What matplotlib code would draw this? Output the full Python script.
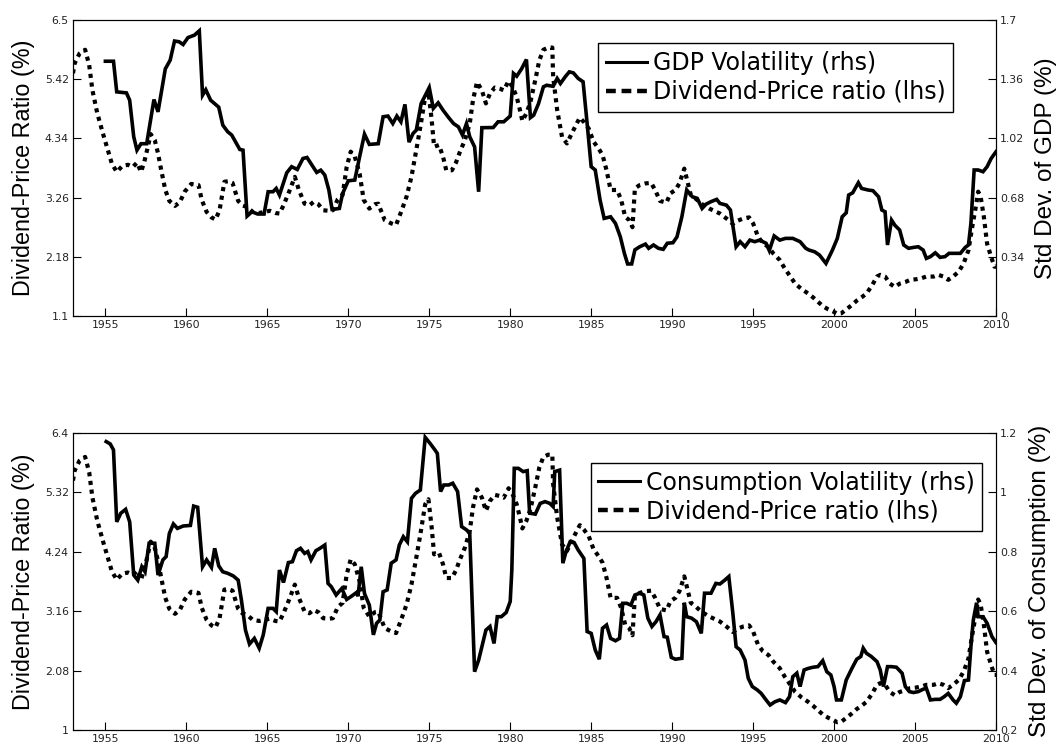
import matplotlib.pyplot as plt
from matplotlib.lines import Line2D

plt.rcParams['font.family'] = ['DejaVu Sans']

# Dividend-price ratio (%), shared by both panels (lhs)
dp_t = [1953.0, 1953.1, 1953.4, 1953.75, 1954.0, 1954.2, 1954.5, 1954.85, 1955.15, 1955.4,
        1955.7, 1956.05, 1956.4, 1956.7, 1956.95, 1957.2, 1957.4, 1957.6, 1957.8, 1958.05,
        1958.25, 1958.45, 1958.7, 1958.95, 1959.3, 1959.6, 1959.9, 1960.3, 1960.75, 1960.95,
        1961.25, 1961.55, 1961.8, 1962.05, 1962.35, 1962.6, 1962.85, 1963.2, 1963.45, 1963.75,
        1964.1, 1964.5, 1965.15, 1965.5, 1965.75, 1966.0, 1966.35, 1966.7, 1966.95, 1967.3,
        1967.6, 1967.85, 1968.15, 1968.45, 1968.8, 1969.05, 1969.35, 1969.65, 1969.9, 1970.15,
        1970.4, 1970.7, 1970.95, 1971.3, 1971.65, 1971.85, 1972.25, 1972.65, 1972.95, 1973.3,
        1973.6, 1973.9, 1974.2, 1974.45, 1974.75, 1974.95, 1975.15, 1975.3, 1975.6, 1975.85,
        1976.05, 1976.4, 1976.65, 1976.9, 1977.2, 1977.5, 1977.7, 1977.95, 1978.25, 1978.5,
        1978.75, 1979.05, 1979.35, 1979.6, 1979.9, 1980.15, 1980.4, 1980.6, 1980.75, 1981.0,
        1981.25, 1981.55, 1981.8, 1982.05, 1982.35, 1982.6, 1982.65, 1982.9, 1983.2, 1983.5,
        1983.8, 1984.1, 1984.3, 1984.55, 1984.85, 1985.15, 1985.45, 1985.7, 1985.95, 1986.2,
        1986.6, 1986.85, 1987.1, 1987.35, 1987.55, 1987.7, 1988.0, 1988.35, 1988.7, 1988.95,
        1989.25, 1989.65, 1989.9, 1990.2, 1990.45, 1990.75, 1990.9, 1991.15, 1991.5, 1991.8,
        1992.3, 1992.95, 1993.35, 1993.75, 1994.05, 1994.4, 1994.75, 1995.0, 1995.3, 1995.6,
        1995.95, 1996.25, 1996.65, 1996.95, 1997.3, 1997.6, 1998.0, 1998.4, 1998.7, 1999.0,
        1999.35, 1999.65, 1999.95, 2000.2, 2000.45, 2000.75, 2001.1, 2001.4, 2001.7, 2002.0,
        2002.35, 2002.65, 2002.85, 2003.15, 2003.45, 2003.75, 2004.05, 2004.4, 2004.7, 2005.05,
        2005.4, 2005.7, 2006.15, 2006.45, 2006.75, 2007.05, 2007.35, 2007.7, 2008.0, 2008.3,
        2008.5, 2008.75, 2008.9, 2009.05, 2009.25, 2009.45, 2009.7, 2009.9, 2010.0]
dp_v = [5.53, 5.71, 5.89, 5.96, 5.68, 5.22, 4.80, 4.43, 4.13, 3.88,
        3.73, 3.84, 3.86, 3.82, 3.90, 3.73, 3.91, 4.16, 4.42, 4.31,
        4.07, 3.76, 3.40, 3.20, 3.11, 3.18, 3.37, 3.51, 3.49, 3.22,
        3.00, 2.90, 2.86, 3.03, 3.55, 3.56, 3.53, 3.20, 3.12, 3.09,
        3.00, 2.98, 3.02, 2.98, 2.97, 3.12, 3.37, 3.64, 3.40, 3.15,
        3.12, 3.18, 3.14, 3.03, 3.02, 3.03, 3.23, 3.31, 3.82, 4.10,
        4.01, 3.70, 3.22, 3.06, 3.14, 3.15, 2.85, 2.79, 2.76, 3.03,
        3.28, 3.64, 4.13, 4.55, 5.10, 5.19, 4.68, 4.19, 4.22, 4.01,
        3.76, 3.76, 3.90, 4.10, 4.31, 4.61, 5.04, 5.37, 5.22, 4.98,
        5.16, 5.27, 5.25, 5.22, 5.39, 5.28, 5.10, 4.86, 4.66, 4.80,
        5.01, 5.41, 5.77, 5.96, 6.00, 6.00, 5.47, 4.86, 4.37, 4.25,
        4.43, 4.61, 4.72, 4.64, 4.52, 4.28, 4.16, 4.04, 3.76, 3.40,
        3.40, 3.22, 2.91, 2.85, 2.72, 3.43, 3.49, 3.52, 3.53, 3.40,
        3.20, 3.17, 3.34, 3.40, 3.52, 3.79, 3.61, 3.31, 3.23, 3.15,
        3.06, 2.97, 2.88, 2.78, 2.84, 2.88, 2.90, 2.79, 2.55, 2.43,
        2.36, 2.24, 2.12, 1.97, 1.82, 1.69, 1.59, 1.51, 1.44, 1.36,
        1.27, 1.22, 1.18, 1.14, 1.15, 1.22, 1.30, 1.38, 1.44, 1.51,
        1.66, 1.82, 1.85, 1.82, 1.69, 1.63, 1.69, 1.72, 1.76, 1.77,
        1.79, 1.82, 1.82, 1.85, 1.82, 1.76, 1.82, 1.91, 2.06, 2.30,
        2.67, 3.09, 3.37, 3.28, 2.91, 2.42, 2.18, 2.00, 2.00]

# GDP volatility (%), top panel (rhs)
gdp_t = [1955.0, 1955.5, 1955.7, 1956.3, 1956.5, 1956.75, 1956.95, 1957.2, 1957.55, 1958.0,
         1958.25, 1958.7, 1959.0, 1959.27, 1959.55, 1959.8, 1960.1, 1960.5, 1960.8, 1961.0,
         1961.2, 1961.5, 1962.0, 1962.25, 1962.55, 1962.8, 1963.1, 1963.3, 1963.5, 1963.75,
         1964.05, 1964.4, 1964.8, 1965.05, 1965.35, 1965.55, 1965.75, 1966.2, 1966.5, 1966.85,
         1967.2, 1967.45, 1967.8, 1968.05, 1968.3, 1968.55, 1968.8, 1969.0, 1969.45, 1969.65,
         1970.0, 1970.4, 1970.7, 1971.0, 1971.3, 1971.85, 1972.15, 1972.45, 1972.75, 1973.0,
         1973.25, 1973.5, 1973.75, 1974.0, 1974.2, 1974.5, 1975.0, 1975.25, 1975.55, 1975.85,
         1976.2, 1976.5, 1976.8, 1977.05, 1977.3, 1977.5, 1977.8, 1978.05, 1978.25, 1978.95,
         1979.25, 1979.6, 1980.0, 1980.2, 1980.4, 1980.7, 1981.0, 1981.25, 1981.45, 1981.75,
         1982.05, 1982.25, 1982.65, 1982.9, 1983.1, 1983.4, 1983.65, 1983.9, 1984.2, 1984.5,
         1984.75, 1985.0, 1985.25, 1985.55, 1985.8, 1986.2, 1986.5, 1986.8, 1987.05, 1987.25,
         1987.5, 1987.7, 1988.0, 1988.35, 1988.55, 1988.85, 1989.15, 1989.45, 1989.7, 1990.05,
         1990.3, 1990.6, 1990.9, 1991.25, 1991.55, 1991.85, 1992.1, 1992.4, 1992.75, 1992.95,
         1993.35, 1993.6, 1993.95, 1994.2, 1994.5, 1994.8, 1995.1, 1995.4, 1995.8, 1996.0,
         1996.3, 1996.65, 1997.0, 1997.45, 1997.9, 1998.25, 1998.45, 1998.8, 1999.1, 1999.5,
         1999.9, 2000.2, 2000.5, 2000.75, 2000.9, 2001.15, 2001.5, 2001.7, 2002.1, 2002.4,
         2002.75, 2002.95, 2003.15, 2003.3, 2003.55, 2003.75, 2004.05, 2004.3, 2004.6, 2004.9,
         2005.2, 2005.5, 2005.7, 2005.95, 2006.25, 2006.55, 2006.85, 2007.1, 2007.45, 2007.8,
         2008.1, 2008.3, 2008.45, 2008.65, 2008.9, 2009.2, 2009.45, 2009.7, 2010.0]
gdp_v = [1.464, 1.464, 1.288, 1.282, 1.24, 1.03, 0.953, 0.99, 0.99, 1.244,
         1.173, 1.42, 1.47, 1.58, 1.576, 1.56, 1.60, 1.614, 1.639, 1.269,
         1.30, 1.24, 1.20, 1.097, 1.059, 1.04, 0.99, 0.957, 0.953, 0.574,
         0.599, 0.586, 0.586, 0.714, 0.714, 0.733, 0.695, 0.823, 0.858, 0.842,
         0.905, 0.911, 0.861, 0.825, 0.838, 0.81, 0.724, 0.612, 0.618, 0.704,
         0.777, 0.781, 0.915, 1.045, 0.986, 0.99, 1.145, 1.149, 1.106, 1.149,
         1.116, 1.216, 0.999, 1.049, 1.068, 1.221, 1.313, 1.193, 1.225, 1.183,
         1.14, 1.106, 1.087, 1.04, 1.106, 1.03, 0.972, 0.714, 1.082, 1.083,
         1.116, 1.116, 1.149, 1.394, 1.378, 1.42, 1.474, 1.14, 1.154, 1.221,
         1.317, 1.326, 1.32, 1.365, 1.336, 1.375, 1.403, 1.397, 1.365, 1.346,
         1.106, 0.858, 0.839, 0.666, 0.561, 0.57, 0.532, 0.455, 0.36, 0.299,
         0.299, 0.38, 0.398, 0.413, 0.389, 0.408, 0.389, 0.383, 0.418, 0.421,
         0.455, 0.57, 0.724, 0.685, 0.676, 0.618, 0.643, 0.657, 0.67, 0.647,
         0.637, 0.609, 0.398, 0.427, 0.398, 0.436, 0.427, 0.436, 0.418, 0.376,
         0.46, 0.436, 0.446, 0.446, 0.427, 0.389, 0.379, 0.369, 0.35, 0.302,
         0.379, 0.446, 0.57, 0.593, 0.695, 0.708, 0.766, 0.733, 0.724, 0.72,
         0.685, 0.609, 0.599, 0.408, 0.551, 0.522, 0.494, 0.408, 0.389, 0.394,
         0.398, 0.379, 0.331, 0.341, 0.363, 0.337, 0.341, 0.36, 0.36, 0.36,
         0.394, 0.408, 0.532, 0.839, 0.839, 0.829, 0.858, 0.905, 0.944]

# Consumption volatility (%), bottom panel (rhs)
cons_t = [1955.05, 1955.3, 1955.5, 1955.7, 1955.95, 1956.25, 1956.5, 1956.75, 1957.0, 1957.25,
          1957.45, 1957.7, 1958.05, 1958.25, 1958.55, 1958.75, 1958.95, 1959.2, 1959.45, 1959.8,
          1960.25, 1960.45, 1960.7, 1961.0, 1961.25, 1961.55, 1961.75, 1962.0, 1962.25, 1962.55,
          1962.9, 1963.2, 1963.4, 1963.65, 1963.9, 1964.2, 1964.5, 1964.75, 1965.05, 1965.35,
          1965.55, 1965.75, 1966.0, 1966.3, 1966.55, 1966.8, 1967.05, 1967.3, 1967.5, 1967.7,
          1968.0, 1968.25, 1968.55, 1968.75, 1968.95, 1969.25, 1969.6, 1969.9, 1970.2, 1970.5,
          1970.6, 1970.8, 1971.0, 1971.3, 1971.55, 1971.75, 1971.95, 1972.15, 1972.4, 1972.65,
          1972.95, 1973.15, 1973.4, 1973.65, 1973.9, 1974.15, 1974.45, 1974.75, 1975.05, 1975.35,
          1975.5, 1975.7, 1975.9, 1976.2, 1976.45, 1976.75, 1977.0, 1977.3, 1977.5, 1977.8,
          1978.05, 1978.25, 1978.5, 1978.75, 1979.0, 1979.2, 1979.45, 1979.75, 1980.0, 1980.1,
          1980.25, 1980.5, 1980.8, 1981.05, 1981.2, 1981.55, 1981.85, 1982.15, 1982.45, 1982.65,
          1982.75, 1983.05, 1983.25, 1983.45, 1983.7, 1983.95, 1984.2, 1984.4, 1984.55, 1984.75,
          1985.0, 1985.25, 1985.5, 1985.7, 1985.95, 1986.2, 1986.5, 1986.75, 1986.95, 1987.2,
          1987.45, 1987.7, 1988.0, 1988.25, 1988.5, 1988.75, 1989.0, 1989.25, 1989.5, 1989.7,
          1989.95, 1990.2, 1990.6, 1990.75, 1990.9, 1991.2, 1991.5, 1991.8, 1992.0, 1992.4,
          1992.7, 1992.95, 1993.25, 1993.5, 1993.75, 1993.95, 1994.2, 1994.5, 1994.7, 1994.95,
          1995.25, 1995.5, 1995.8, 1996.05, 1996.35, 1996.65, 1997.0, 1997.25, 1997.45, 1997.7,
          1997.9, 1998.15, 1998.4, 1998.7, 1999.0, 1999.3, 1999.55, 1999.8, 2000.0, 2000.15,
          2000.45, 2000.75, 2001.1, 2001.4, 2001.65, 2001.8, 2002.0, 2002.3, 2002.65, 2002.85,
          2003.05, 2003.3, 2003.55, 2003.85, 2004.2, 2004.4, 2004.65, 2004.9, 2005.2, 2005.5,
          2005.7, 2005.95, 2006.25, 2006.55, 2006.8, 2007.05, 2007.35, 2007.55, 2007.8, 2008.05,
          2008.3, 2008.45, 2008.6, 2008.8, 2008.9, 2009.2, 2009.45, 2009.75, 2010.0]
cons_v = [1.170, 1.162, 1.142, 0.90, 0.929, 0.942, 0.90, 0.721, 0.704, 0.749,
          0.732, 0.828, 0.828, 0.721, 0.772, 0.783, 0.861, 0.893, 0.878, 0.886,
          0.888, 0.953, 0.949, 0.749, 0.772, 0.747, 0.811, 0.752, 0.732, 0.727,
          0.718, 0.704, 0.637, 0.536, 0.489, 0.508, 0.475, 0.52, 0.609, 0.609,
          0.598, 0.738, 0.696, 0.763, 0.766, 0.803, 0.811, 0.794, 0.80, 0.772,
          0.803, 0.811, 0.822, 0.693, 0.682, 0.654, 0.676, 0.639, 0.65, 0.662,
          0.65, 0.749, 0.659, 0.62, 0.52, 0.559, 0.57, 0.665, 0.671, 0.761,
          0.772, 0.822, 0.85, 0.833, 0.979, 0.996, 1.007, 1.184, 1.164, 1.142,
          1.13, 1.002, 1.024, 1.024, 1.03, 1.002, 0.884, 0.873, 0.861, 0.396,
          0.435, 0.48, 0.536, 0.548, 0.491, 0.581, 0.581, 0.595, 0.632, 0.738,
          1.08, 1.08, 1.069, 1.072, 0.929, 0.926, 0.962, 0.968, 0.962, 0.951,
          1.069, 1.074, 0.761, 0.80, 0.833, 0.83, 0.805, 0.789, 0.777, 0.531,
          0.525, 0.469, 0.438, 0.542, 0.553, 0.508, 0.50, 0.508, 0.626, 0.626,
          0.62, 0.654, 0.66, 0.654, 0.576, 0.548, 0.564, 0.587, 0.514, 0.512,
          0.444, 0.438, 0.441, 0.628, 0.581, 0.576, 0.564, 0.525, 0.66, 0.66,
          0.693, 0.691, 0.704, 0.716, 0.592, 0.48, 0.469, 0.435, 0.374, 0.346,
          0.335, 0.323, 0.301, 0.284, 0.295, 0.301, 0.292, 0.312, 0.379, 0.391,
          0.346, 0.402, 0.407, 0.411, 0.413, 0.433, 0.396, 0.385, 0.346, 0.301,
          0.301, 0.368, 0.407, 0.438, 0.447, 0.475, 0.458, 0.447, 0.43, 0.402,
          0.346, 0.413, 0.413, 0.411, 0.391, 0.346, 0.329, 0.326, 0.329, 0.337,
          0.34, 0.301, 0.303, 0.303, 0.312, 0.323, 0.301, 0.29, 0.312, 0.366,
          0.368, 0.48, 0.57, 0.628, 0.581, 0.581, 0.559, 0.514, 0.494]

years = [1955, 1960, 1965, 1970, 1975, 1980, 1985, 1990, 1995, 2000, 2005, 2010]

top_left_ticks = [1.1, 2.18, 3.26, 4.34, 5.42, 6.5]
top_left_labels = ['1.1', '2.18', '3.26', '4.34', '5.42', '6.5']
top_right_ticks = [0, 0.34, 0.68, 1.02, 1.36, 1.7]
top_right_labels = ['0', '0.34', '0.68', '1.02', '1.36', '1.7']
bot_left_ticks = [1, 2.08, 3.16, 4.24, 5.32, 6.4]
bot_left_labels = ['1', '2.08', '3.16', '4.24', '5.32', '6.4']
bot_right_ticks = [0.2, 0.4, 0.6, 0.8, 1.0, 1.2]
bot_right_labels = ['0.2', '0.4', '0.6', '0.8', '1', '1.2']

label_font = ['Liberation Sans', 'DejaVu Sans']


def make_panel(rect, vol_t, vol_v, lticks, llabels, rticks, rlabels, rlabel, leg_label, leg_pos):
    ax = fig.add_axes(rect)
    ax2 = ax.twinx()
    ax.plot(dp_t, dp_v, color='black', lw=3.0, linestyle=(0, (1.0, 1.1)), dash_capstyle='butt')
    ax2.plot(vol_t, vol_v, color='black', lw=2.6, solid_joinstyle='miter')
    ax.set_xlim(1953, 2010)
    ax.set_ylim(lticks[0], lticks[-1])
    ax2.set_ylim(rticks[0], rticks[-1])
    ax.set_xticks(years)
    ax.set_xticklabels([str(y) for y in years], fontsize=7.8, color='#222222')
    ax.set_yticks(lticks)
    ax.set_yticklabels(llabels, fontsize=7.8, color='#222222')
    ax2.set_yticks(rticks)
    ax2.set_yticklabels(rlabels, fontsize=7.8, color='#222222')
    ax.tick_params(direction='in', length=6, width=0.8, pad=3)
    ax2.tick_params(direction='in', length=6, width=0.8, pad=3)
    ax.set_ylabel('Dividend-Price Ratio (%)', fontsize=16.8, family=label_font, labelpad=7)
    ax2.set_ylabel(rlabel, fontsize=17.5, family=label_font, labelpad=8)
    handles = [Line2D([], [], color='black', lw=2.2),
               Line2D([], [], color='black', lw=3.2, linestyle=(0, (2.2, 1.3)))]
    leg = ax2.legend(handles, [leg_label, 'Dividend-Price ratio (lhs)'], loc='upper left',
                     bbox_to_anchor=leg_pos, fontsize=17, frameon=True, fancybox=False,
                     edgecolor='black', framealpha=1, handlelength=1.75, handletextpad=0.25,
                     borderpad=0.32, labelspacing=0.22, borderaxespad=0)
    leg.get_frame().set_linewidth(1.0)
    return ax, ax2


fig = plt.figure(figsize=(10.58, 7.47), dpi=100)

make_panel([0.069, 0.577, 0.8724, 0.396], gdp_t, gdp_v, top_left_ticks, top_left_labels,
           top_right_ticks, top_right_labels, 'Std Dev. of GDP (%)', 'GDP Volatility (rhs)',
           (0.569, 0.922))
make_panel([0.069, 0.0228, 0.8724, 0.398], cons_t, cons_v, bot_left_ticks, bot_left_labels,
           bot_right_ticks, bot_right_labels, 'Std Dev. of Consumption (%)',
           'Consumption Volatility (rhs)', (0.561, 0.898))

fig.savefig('out.png', dpi=100)
